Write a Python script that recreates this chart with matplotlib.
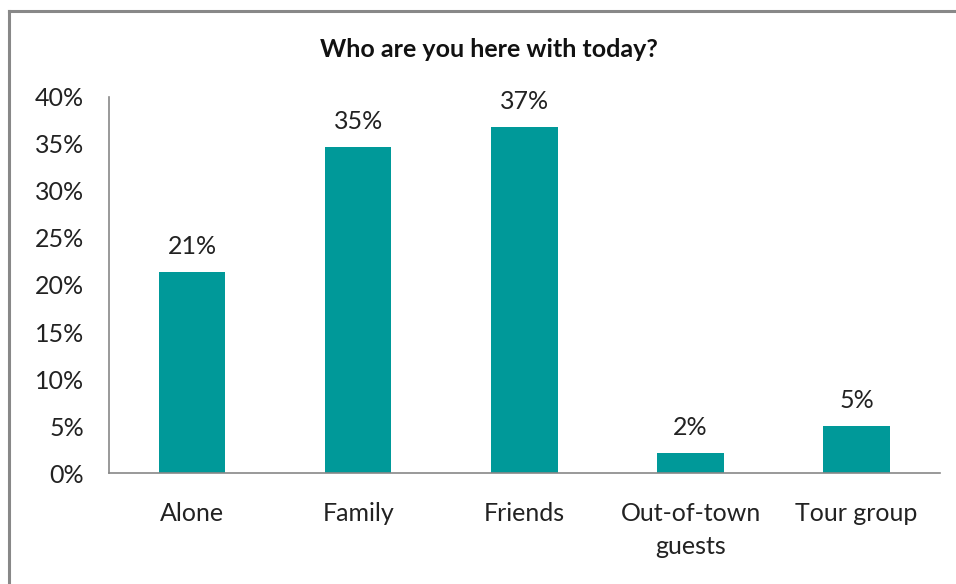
import numpy as np
import matplotlib.pyplot as plt
from matplotlib.lines import Line2D

plt.rcParams['font.family'] = ['Lato', 'DejaVu Sans']

# survey answers
categories = ['Alone', 'Family', 'Friends', 'Out-of-town\nguests', 'Tour group']
shares = [21.4, 34.7, 36.8, 2.1, 5.0]
yticks = [0, 5, 10, 15, 20, 25, 30, 35, 40]

bar_color = '#009999'
text_color = '#222222'

fig = plt.figure(figsize=(9.56, 5.84), dpi=100)
ax = fig.add_axes([0.114, 0.19, 0.869, 0.644])

x = np.arange(len(categories))
bars = ax.bar(x, shares, width=0.4, color=bar_color)

# value labels above bars
for xi, v in zip(x, shares):
    ax.annotate(f'{v:.0f}%', (xi, v), xytext=(0, 10), textcoords='offset points',
                ha='center', va='bottom', fontsize=18, color=text_color)

ax.set_xlim(-0.5, len(categories) - 0.5)
ax.set_ylim(0, 40)
ax.set_yticks(yticks)
ax.set_yticklabels([f'{t}%' for t in yticks])
ax.set_xticks(x)
ax.set_xticklabels(categories, linespacing=1.5)
ax.tick_params(axis='both', length=0, labelsize=18, labelcolor=text_color)
ax.tick_params(axis='y', pad=18)
ax.tick_params(axis='x', pad=21)

for s in ['top', 'right']:
    ax.spines[s].set_visible(False)
for s in ['left', 'bottom']:
    ax.spines[s].set_color('#888888')
    ax.spines[s].set_linewidth(1.2)

fig.text(0.511, 0.916, 'Who are you here with today?', ha='center', va='center',
         fontsize=18, fontweight='bold', color='#111111')

# outer frame (top and left edges only)
fig.add_artist(Line2D([0.0094, 1.0], [0.981, 0.981], transform=fig.transFigure,
                      color='#888888', lw=2.2))
fig.add_artist(Line2D([0.0094, 0.0094], [0.0, 0.981], transform=fig.transFigure,
                      color='#888888', lw=2.2))

fig.savefig('out.png', dpi=100)
